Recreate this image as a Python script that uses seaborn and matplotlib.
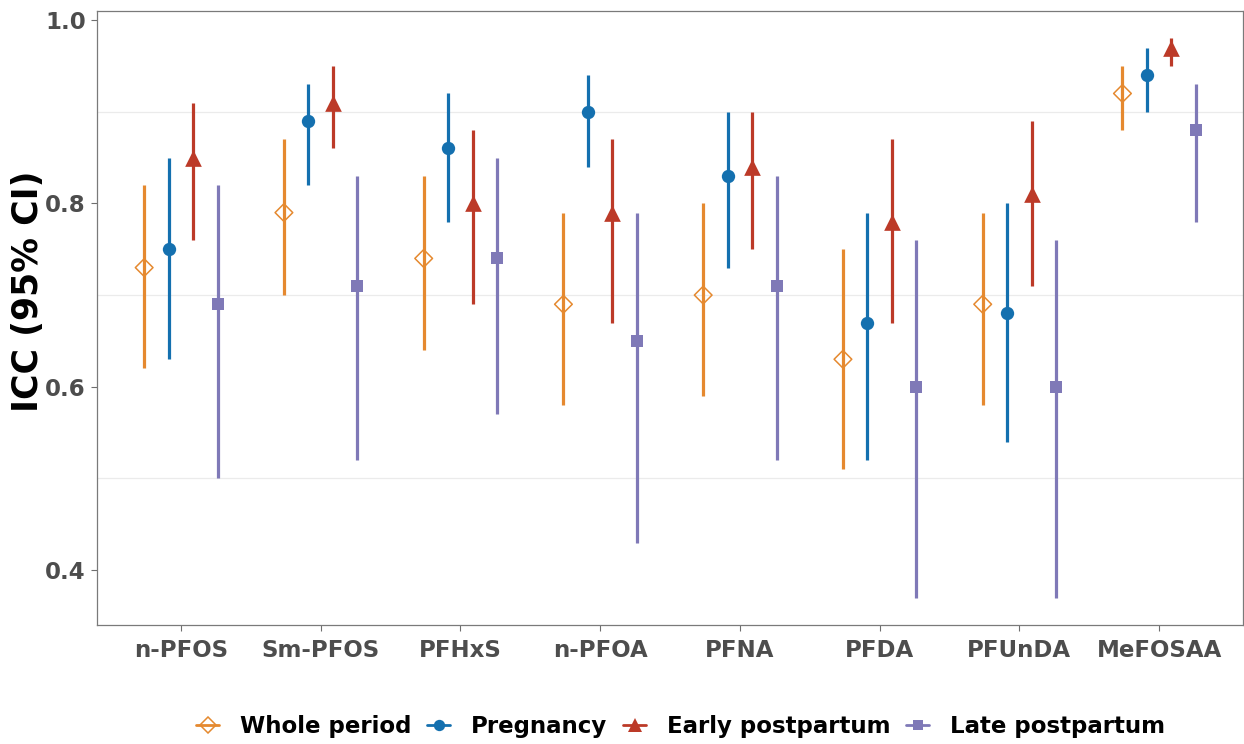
import numpy as np
import pandas as pd
import matplotlib
matplotlib.use("Agg")
import matplotlib.pyplot as plt
import seaborn as sns
from matplotlib.lines import Line2D

# ICC estimates with 95% confidence limits, per compound and period
compounds = ["n-PFOS", "Sm-PFOS", "PFHxS", "n-PFOA", "PFNA", "PFDA", "PFUnDA", "MeFOSAA"]
periods = ["Whole period", "Pregnancy", "Early postpartum", "Late postpartum"]

whole_icc = [0.73, 0.79, 0.74, 0.69, 0.70, 0.63, 0.69, 0.92]
whole_lo  = [0.62, 0.70, 0.64, 0.58, 0.59, 0.51, 0.58, 0.88]
whole_hi  = [0.82, 0.87, 0.83, 0.79, 0.80, 0.75, 0.79, 0.95]

preg_icc = [0.75, 0.89, 0.86, 0.90, 0.83, 0.67, 0.68, 0.94]
preg_lo  = [0.63, 0.82, 0.78, 0.84, 0.73, 0.52, 0.54, 0.90]
preg_hi  = [0.85, 0.93, 0.92, 0.94, 0.90, 0.79, 0.80, 0.97]

early_icc = [0.85, 0.91, 0.80, 0.79, 0.84, 0.78, 0.81, 0.97]
early_lo  = [0.76, 0.86, 0.69, 0.67, 0.75, 0.67, 0.71, 0.95]
early_hi  = [0.91, 0.95, 0.88, 0.87, 0.90, 0.87, 0.89, 0.98]

late_icc = [0.69, 0.71, 0.74, 0.65, 0.71, 0.60, 0.60, 0.88]
late_lo  = [0.50, 0.52, 0.57, 0.43, 0.52, 0.37, 0.37, 0.78]
late_hi  = [0.82, 0.83, 0.85, 0.79, 0.83, 0.76, 0.76, 0.93]

series = {
    "Whole period": (whole_icc, whole_lo, whole_hi),
    "Pregnancy": (preg_icc, preg_lo, preg_hi),
    "Early postpartum": (early_icc, early_lo, early_hi),
    "Late postpartum": (late_icc, late_lo, late_hi),
}

rows = []
for period, (est, lo, hi) in series.items():
    for c, e, l, h in zip(compounds, est, lo, hi):
        rows.append({"compound": c, "period": period, "icc": e, "lo": l, "hi": h})
df = pd.DataFrame(rows)

# styling per period
colors = {"Whole period": "#E5892F", "Pregnancy": "#1470AF",
          "Early postpartum": "#BC3A28", "Late postpartum": "#7F79B7"}
markers = {"Whole period": "D", "Pregnancy": "o",
           "Early postpartum": "^", "Late postpartum": "s"}
msize = {"Whole period": 9.0, "Pregnancy": 9.6,
         "Early postpartum": 12.0, "Late postpartum": 8.6}

# dodge the four periods around each compound position
dodge_width = 0.7
n = len(periods)
offsets = {p: (i - (n - 1) / 2) * dodge_width / n for i, p in enumerate(periods)}
df["xpos"] = df["compound"].map({c: i for i, c in enumerate(compounds)}) + df["period"].map(offsets)

sns.set_style("white")
plt.rcParams["font.family"] = ["DejaVu Sans"]

fig = plt.figure(figsize=(12.44, 7.44), dpi=100)
ax = fig.add_axes([97 / 1244, 1 - 625 / 744, (1243 - 97) / 1244, (625 - 11) / 744])

# faint reference lines between the labelled ticks
for yv in [0.5, 0.7, 0.9]:
    ax.axhline(yv, color="#EBEBEB", lw=0.9, zorder=0)

for p in periods:
    sub = df[df["period"] == p]
    ax.vlines(sub["xpos"], sub["lo"], sub["hi"], color=colors[p], lw=2.3, zorder=2)
    hollow = p == "Whole period"
    sns.scatterplot(
        data=sub, x="xpos", y="icc", ax=ax,
        marker=markers[p], s=msize[p] ** 2,
        color=colors[p],
        facecolor="none" if hollow else colors[p],
        edgecolor=colors[p],
        linewidth=1.1 if hollow else 0,
        zorder=3, legend=False,
    )

ax.set_xlim(-0.6, len(compounds) - 0.4)
ax.set_ylim(0.34, 1.01)
ax.set_xticks(range(len(compounds)))
ax.set_xticklabels(compounds)
ax.set_yticks([0.4, 0.6, 0.8, 1.0])
ax.set_yticklabels(["0.4", "0.6", "0.8", "1.0"])
ax.set_xlabel("")
ax.set_ylabel("ICC (95% CI)", fontsize=25, fontweight="bold", color="black")
ax.yaxis.set_label_coords((45 - 97) / 1146, 0.544)

ax.tick_params(axis="both", which="major", length=4, width=0.8, color="#6E6E6E",
               labelsize=16.5, labelcolor="#4D4D4D", direction="out",
               bottom=True, left=True)
ax.tick_params(axis="x", pad=6)
ax.tick_params(axis="y", pad=4)
for lbl in ax.get_xticklabels() + ax.get_yticklabels():
    lbl.set_fontweight("bold")

for sp in ax.spines.values():
    sp.set_visible(True)
    sp.set_color("#7A7A7A")
    sp.set_linewidth(0.9)

handles = []
for p in periods:
    hollow = p == "Whole period"
    handles.append(Line2D([0], [0], color=colors[p], lw=2.0, marker=markers[p],
                          markersize=msize[p] * 0.85,
                          markerfacecolor="none" if hollow else colors[p],
                          markeredgecolor=colors[p],
                          markeredgewidth=1.1 if hollow else 0))
leg = fig.legend(handles, periods, loc="center", bbox_to_anchor=(0.547, 0.023), ncol=4,
                 frameon=False, prop={"size": 16.5, "weight": "bold"},
                 handlelength=1.0, handletextpad=0.9, columnspacing=0.7)
for t in leg.get_texts():
    t.set_color("black")

fig.savefig("out.png", dpi=100)
